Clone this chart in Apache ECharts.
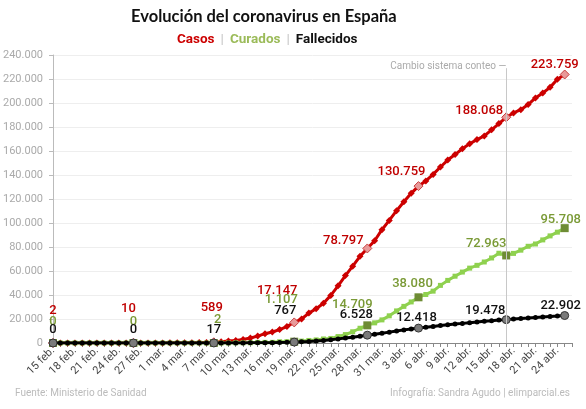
<!DOCTYPE html>
<html lang="es">
<head>
    <meta charset="UTF-8">
    <title>Evolución del coronavirus en España</title>
    <script src="https://cdn.jsdelivr.net/npm/echarts@6/dist/echarts.min.js"></script>
    <style>
        html, body { margin: 0; padding: 0; background: #fff; }
    </style>
</head>
<body>
<div id="main" style="width:586px;height:409px;"></div>
<script type="text/javascript">
    // fechas (15 feb. - 26 abr.)
    var fechas = [
        '15 feb.','16 feb.','17 feb.','18 feb.','19 feb.','20 feb.','21 feb.','22 feb.','23 feb.','24 feb.',
        '25 feb.','26 feb.','27 feb.','28 feb.','29 feb.',
        '1 mar.','2 mar.','3 mar.','4 mar.','5 mar.','6 mar.','7 mar.','8 mar.','9 mar.','10 mar.',
        '11 mar.','12 mar.','13 mar.','14 mar.','15 mar.','16 mar.','17 mar.','18 mar.','19 mar.','20 mar.',
        '21 mar.','22 mar.','23 mar.','24 mar.','25 mar.','26 mar.','27 mar.','28 mar.','29 mar.','30 mar.','31 mar.',
        '1 abr.','2 abr.','3 abr.','4 abr.','5 abr.','6 abr.','7 abr.','8 abr.','9 abr.','10 abr.',
        '11 abr.','12 abr.','13 abr.','14 abr.','15 abr.','16 abr.','17 abr.','18 abr.','19 abr.','20 abr.',
        '21 abr.','22 abr.','23 abr.','24 abr.','25 abr.','26 abr.'
    ];

    var casos = [
        2, 2, 2, 2, 2, 2, 2, 2, 2, 2,
        6, 10, 15, 32, 45,
        84, 120, 165, 228, 282, 365, 430, 589, 999, 1622,
        2128, 2950, 4209, 5753, 7753, 9191, 11178, 13716, 17147, 19980,
        24926, 28572, 33089, 39673, 47610, 56188, 64059, 72248, 78797, 85195, 94417,
        102136, 110238, 117710, 124736, 130759, 135032, 140510, 146690, 152446, 157022,
        161852, 166019, 169496, 172541, 177644, 182816, 188068, 191726, 194416, 198674,
        204178, 208389, 213024, 219764, 223759
    ];

    var curados = [
        0, 0, 0, 0, 0, 0, 0, 0, 0, 0,
        0, 0, 0, 0, 2,
        2, 2, 2, 2, 2, 2, 2, 2, 32, 32,
        183, 189, 193, 517, 517, 530, 1028, 1081, 1107, 1588,
        2125, 2575, 3355, 3794, 5367, 7015, 9357, 12285, 14709, 16780, 19259,
        22647, 26743, 30513, 34219, 38080, 40437, 43208, 48021, 52165, 55668,
        59109, 62391, 64727, 67504, 70853, 74797, 72963, 74662, 77357, 80587,
        82514, 85915, 89250, 92355, 95708
    ];

    var fallecidos = [
        0, 0, 0, 0, 0, 0, 0, 0, 0, 0,
        0, 0, 0, 0, 0,
        0, 0, 1, 2, 3, 5, 10, 17, 28, 35,
        54, 84, 121, 136, 288, 309, 491, 598, 767, 1002,
        1326, 1720, 2182, 2696, 3434, 4089, 4858, 5690, 6528, 7340, 8189,
        9053, 10003, 10935, 11744, 12418, 13055, 13798, 14555, 15238, 15843,
        16353, 16972, 17489, 18056, 18579, 19130, 19478, 20043, 20453, 20852,
        21282, 21717, 22157, 22524, 22902
    ];

    // dias destacados con etiqueta
    var destacados = [0, 11, 22, 33, 43, 50, 62, 70];
    var cambioConteo = 62;

    // desplazamiento de etiquetas respecto al punto
    var offCasos = [[0,-32],[-5,-34],[-2,-35],[-17,-32],[-24,-8],[-17,-14],[-27,-7],[-10,-10]];
    var offCurados = [[0,-21],[0,-21],[4,-23],[-13,-42],[-15,-21],[-6,-14],[-20,-12],[-4,-8]];
    var offFallecidos = [[0,-13],[0,-13],[0,-13],[-9,-31],[-11,-20],[-2,-10],[-21,-9],[-4,-10]];

    function miles(n) {
        return String(n).replace(/\B(?=(\d{3})+(?!\d))/g, '.');
    }

    function armar(valores, offs, labelColor, hl) {
        return valores.map(function (v, i) {
            var k = destacados.indexOf(i);
            if (k < 0) return v;
            return {
                value: v,
                symbolSize: hl.size,
                itemStyle: hl.style,
                label: {
                    show: true,
                    position: 'inside',
                    offset: offs[k],
                    formatter: miles(v),
                    color: labelColor,
                    fontFamily: 'Roboto',
                    fontSize: 13,
                    fontWeight: 500
                }
            };
        });
    }

    var myChart = echarts.init(document.getElementById('main'));

    myChart.setOption({
        backgroundColor: '#fff',
        animation: false,
        title: [
            {
                text: 'Evolución del coronavirus en España',
                left: 126,
                top: 3,
                textStyle: { fontFamily: 'Lato', fontSize: 16.5, fontWeight: 'bold', color: '#111' }
            },
            {
                text: '{a|Casos}{s||}{b|Curados}{s||}{c|Fallecidos}',
                left: 172,
                top: 28,
                textStyle: {
                    rich: {
                        a: { color: '#cc0000', fontFamily: 'Roboto', fontSize: 13.5, fontWeight: 'bold' },
                        b: { color: '#9bbb59', fontFamily: 'Roboto', fontSize: 13.5, fontWeight: 'bold' },
                        c: { color: '#111', fontFamily: 'Roboto', fontSize: 13.5, fontWeight: 'bold' },
                        s: { color: '#ccc', fontFamily: 'Roboto', fontSize: 13.5, padding: [0, 6, 0, 6] }
                    }
                }
            },
            {
                text: 'Fuente: Ministerio de Sanidad',
                left: 10,
                top: 383,
                textStyle: { fontFamily: 'Roboto', fontSize: 10, fontWeight: 'normal', color: '#bbb' }
            },
            {
                text: 'Infografía: Sandra Agudo | elimparcial.es',
                right: 11,
                top: 383,
                textStyle: { fontFamily: 'Roboto', fontSize: 10, fontWeight: 'normal', color: '#bbb' }
            }
        ],
        grid: { left: 53, right: 14, top: 55, bottom: 66 },
        xAxis: {
            type: 'category',
            data: fechas,
            boundaryGap: false,
            axisLine: { lineStyle: { color: '#888', width: 1 } },
            axisTick: { interval: 0, length: 4, lineStyle: { color: '#888' } },
            axisLabel: {
                interval: 2,
                rotate: 45,
                margin: 6,
                color: '#444',
                fontFamily: 'Roboto',
                fontSize: 11
            },
            splitLine: { show: false }
        },
        yAxis: {
            type: 'value',
            min: 0,
            max: 240000,
            interval: 20000,
            axisLine: { show: true, lineStyle: { color: '#bbb' } },
            axisTick: { show: true, length: 4, lineStyle: { color: '#bbb' } },
            axisLabel: {
                color: '#aaa',
                fontFamily: 'Roboto',
                fontSize: 11,
                margin: 10,
                formatter: function (v) { return miles(v); }
            },
            splitLine: { lineStyle: { color: '#eee' } }
        },
        series: [
            {
                name: 'Casos',
                type: 'line',
                data: armar(casos, offCasos, '#c00000',
                    { size: 9, style: { color: '#e89a9a', borderColor: '#c84040', borderWidth: 1 } }),
                symbol: 'diamond',
                symbolSize: 7,
                showAllSymbol: true,
                lineStyle: { color: '#cc0000', width: 3 },
                itemStyle: { color: '#cc0000' },
                z: 2,
                markLine: {
                    silent: true,
                    symbol: 'none',
                    lineStyle: { color: '#c8c8c8', width: 1, type: 'solid' },
                    label: {
                        show: true,
                        position: 'start',
                        distance: 2,
                        formatter: 'Cambio sistema conteo —',
                        color: '#aaa',
                        fontFamily: 'Roboto',
                        fontSize: 10,
                        align: 'right',
                        verticalAlign: 'middle'
                    },
                    data: [
                        [{ coord: [fechas[cambioConteo], 229000] }, { coord: [fechas[cambioConteo], 0] }]
                    ]
                }
            },
            {
                name: 'Curados',
                type: 'line',
                data: armar(curados, offCurados, '#7a9a36',
                    { size: 8, style: { color: '#6e8c34' } }),
                symbol: 'rect',
                symbolSize: 5,
                showAllSymbol: true,
                lineStyle: { color: '#8fd14f', width: 3 },
                itemStyle: { color: '#8fd14f' },
                z: 3
            },
            {
                name: 'Fallecidos',
                type: 'line',
                data: armar(fallecidos, offFallecidos, '#111',
                    { size: 8, style: { color: '#7a7a7a', borderColor: '#333', borderWidth: 1 } }),
                symbol: 'circle',
                symbolSize: 5,
                showAllSymbol: true,
                lineStyle: { color: '#000', width: 3 },
                itemStyle: { color: '#000' },
                z: 4
            }
        ]
    });
</script>
</body>
</html>
